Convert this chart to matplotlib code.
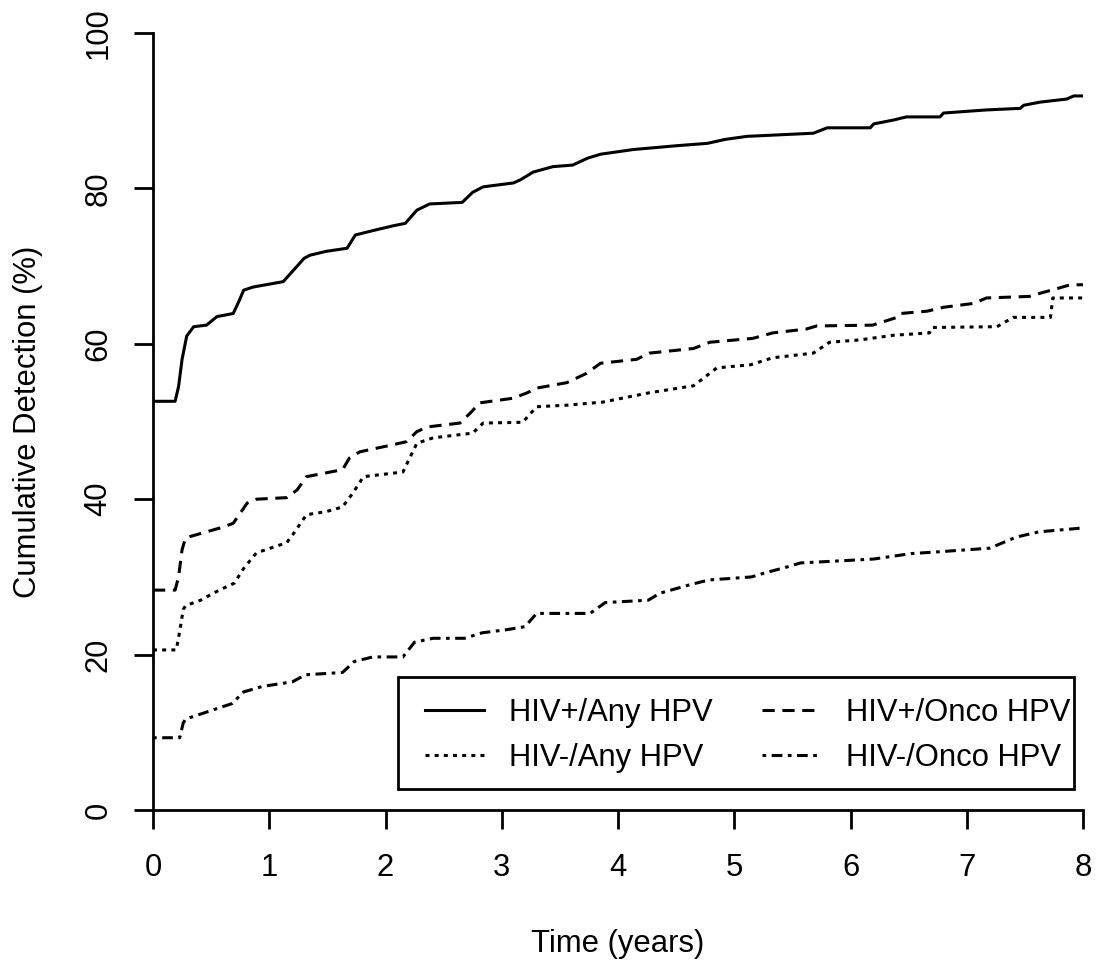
import matplotlib
matplotlib.use("Agg")
import matplotlib.pyplot as plt
from matplotlib.patches import Rectangle

plt.rcParams['font.family'] = ['Liberation Sans', 'DejaVu Sans']

# cumulative detection curves
t_pos_any = [0, 0.19, 0.22, 0.25, 0.29, 0.35, 0.46, 0.55, 0.69, 0.74, 0.78, 0.86, 1.12, 1.21, 1.30, 1.35,
             1.49, 1.67, 1.74, 1.90, 2.07, 2.17, 2.27, 2.38, 2.66, 2.75, 2.84, 3.10, 3.16, 3.27, 3.44, 3.61,
             3.74, 3.85, 4.13, 4.51, 4.77, 4.92, 5.11, 5.68, 5.80, 6.17, 6.20, 6.37, 6.48, 6.77, 6.80, 7.17,
             7.46, 7.49, 7.63, 7.86, 7.92, 8.0]
pos_any = [52.6, 52.6, 54.5, 58.0, 61.0, 62.2, 62.4, 63.5, 63.9, 65.5, 66.9, 67.3, 68.0, 69.5, 71.0, 71.4,
           71.9, 72.3, 74.0, 74.6, 75.2, 75.5, 77.2, 78.0, 78.2, 79.5, 80.2, 80.7, 81.1, 82.1, 82.8, 83.0,
           83.9, 84.4, 85.0, 85.5, 85.8, 86.3, 86.7, 87.1, 87.8, 87.8, 88.3, 88.8, 89.2, 89.2, 89.7, 90.1,
           90.3, 90.7, 91.1, 91.5, 91.9, 91.9]

t_pos_onco = [0, 0.19, 0.22, 0.25, 0.28, 0.32, 0.60, 0.69, 0.81, 0.89, 1.15, 1.24, 1.32, 1.63, 1.69, 1.78,
              2.06, 2.18, 2.27, 2.36, 2.64, 2.73, 2.81, 3.10, 3.22, 3.30, 3.56, 3.73, 3.85, 4.16, 4.27, 4.65,
              4.79, 5.16, 5.33, 5.62, 5.71, 6.19, 6.40, 6.43, 6.66, 6.80, 7.06, 7.17, 7.54, 7.63, 7.80, 7.89, 8.0]
pos_onco = [28.3, 28.3, 30.0, 33.5, 35.0, 35.2, 36.4, 36.9, 39.5, 40.0, 40.2, 41.2, 42.9, 43.8, 45.3, 46.1,
            47.0, 47.4, 48.7, 49.3, 49.8, 51.1, 52.4, 53.0, 53.7, 54.3, 55.0, 56.2, 57.5, 58.0, 58.8, 59.4,
            60.2, 60.7, 61.4, 61.9, 62.3, 62.4, 63.4, 63.9, 64.2, 64.7, 65.2, 65.9, 66.1, 66.5, 67.2, 67.6, 67.6]

t_neg_any = [0, 0.20, 0.23, 0.26, 0.28, 0.41, 0.57, 0.70, 0.78, 0.89, 1.15, 1.21, 1.32, 1.49, 1.63, 1.72,
             1.81, 2.15, 2.27, 2.41, 2.75, 2.84, 3.18, 3.30, 3.56, 3.87, 4.27, 4.65, 4.85, 5.14, 5.33, 5.68,
             5.82, 6.08, 6.37, 6.68, 6.70, 7.26, 7.40, 7.72, 7.74, 8.0]
neg_any = [20.6, 20.6, 23.0, 25.8, 26.3, 27.0, 28.3, 29.2, 31.1, 33.1, 34.4, 35.6, 38.0, 38.4, 39.0, 40.8,
           42.9, 43.5, 47.2, 47.9, 48.5, 49.8, 49.9, 51.9, 52.1, 52.5, 53.7, 54.6, 56.9, 57.3, 58.2, 58.8,
           60.2, 60.5, 61.1, 61.4, 62.1, 62.2, 63.4, 63.4, 65.9, 65.9]

t_neg_onco = [0, 0.23, 0.26, 0.28, 0.46, 0.68, 0.78, 0.94, 1.20, 1.31, 1.63, 1.73, 1.89, 2.15, 2.25, 2.41,
              2.68, 2.83, 3.04, 3.20, 3.30, 3.76, 3.89, 4.26, 4.36, 4.62, 4.78, 5.15, 5.26, 5.46, 5.57, 5.83,
              6.20, 6.52, 6.73, 7.20, 7.42, 7.62, 8.0]
neg_onco = [9.3, 9.3, 11.2, 11.7, 12.6, 13.7, 15.2, 15.9, 16.5, 17.4, 17.7, 19.1, 19.7, 19.7, 21.6, 22.1,
            22.1, 22.8, 23.2, 23.6, 25.3, 25.3, 26.7, 27.0, 27.9, 29.0, 29.6, 30.0, 30.5, 31.3, 31.8, 32.0,
            32.3, 33.0, 33.2, 33.7, 35.1, 35.8, 36.3]

labels = ["HIV+/Any HPV", "HIV+/Onco HPV", "HIV-/Any HPV", "HIV-/Onco HPV"]

fs = 22.3
fig = plt.figure(figsize=(10.96, 9.63), dpi=100)
ax = fig.add_axes([153/1096, 1 - 810/963, 930/1096, 777/963])

lw = 2.2
l1, = ax.plot(t_pos_any, pos_any, color='black', lw=lw, linestyle='-')
l2, = ax.plot(t_pos_onco, pos_onco, color='black', lw=lw, linestyle=(0, (4, 2.5)))
l3, = ax.plot(t_neg_any, neg_any, color='black', lw=lw, linestyle=(0, (1.3, 1.7)))
l4, = ax.plot(t_neg_onco, neg_onco, color='black', lw=lw, linestyle=(0, (1.2, 1.8, 3.5, 1.8)))

ax.set_xlim(0, 8)
ax.set_ylim(0, 100)
ax.set_xticks(range(0, 9))
ax.set_yticks(range(0, 101, 20))

for s in ['top', 'right']:
    ax.spines[s].set_visible(False)
for s in ['left', 'bottom']:
    ax.spines[s].set_linewidth(2.0)

ax.tick_params(direction='out', length=13.5, width=2.0, labelsize=fs)
ax.tick_params(axis='x', pad=17.5)
ax.tick_params(axis='y', pad=15)
for lab in ax.get_yticklabels():
    lab.set_rotation(90)
    lab.set_va('center')

ax.set_xlabel("Time (years)", fontsize=fs, labelpad=33)
ax.set_ylabel("Cumulative Detection (%)", fontsize=fs, labelpad=29)

# R-style legend box: text runs almost up to the right border
ax.add_patch(Rectangle((0.2634, 0.027), 0.7269, 0.1442, transform=ax.transAxes,
                       fill=False, edgecolor='black', linewidth=2.0, zorder=4))
leg = ax.legend([l1, l3, l2, l4], [labels[0], labels[2], labels[1], labels[3]],
                ncol=2, loc='center left', bbox_to_anchor=(0.2925, 0.0958, 0.6935, 0),
                mode='expand', fontsize=fs, frameon=False,
                handlelength=1.9, handletextpad=0.8, labelspacing=0.48, borderpad=0,
                borderaxespad=0)

fig.savefig("out.png", dpi=100)
